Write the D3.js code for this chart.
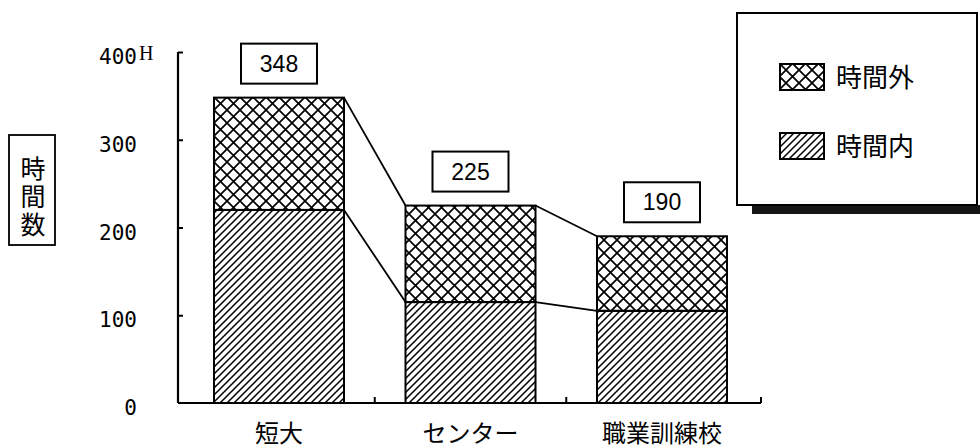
<!DOCTYPE html>
<html><head><meta charset="utf-8">
<script src="https://cdn.jsdelivr.net/npm/d3@7"></script>
<style>body{margin:0;background:#fff}</style>
</head><body><svg id="chart" width="980" height="448"></svg>
<script>
// Annual training hours by school type, split into in-hours and overtime
const categories = ["短大", "センター", "職業訓練校"];
const totals = [348, 225, 190];
const insideHours = [220, 115, 105];
const yTicks = [0, 100, 200, 300, 400];
const seriesNames = ["時間外", "時間内"];
const yTitle = "時間数";

const svg = d3.select("#chart");
const ink = "#000";
const cjk = "'Noto Sans CJK JP', sans-serif";

const y = d3.scaleLinear().domain([0, 400]).range([403, 52]);
const x = d3.scalePoint().domain(categories).range([279, 662]);
const barW = 130;

// hatch patterns
const defs = svg.append("defs");
const cross = defs.append("pattern").attr("id", "cross")
  .attr("patternUnits", "userSpaceOnUse").attr("width", 13).attr("height", 13)
  .attr("x", 214).attr("y", 97);
cross.append("path").attr("d", "M0,0L13,13M13,0L0,13")
  .attr("stroke", ink).attr("stroke-width", 1.7).attr("fill", "none");
const diag = defs.append("pattern").attr("id", "diag")
  .attr("patternUnits", "userSpaceOnUse").attr("width", 7).attr("height", 7);
diag.append("path").attr("d", "M-1,8L8,-1M-1,1L1,-1M6,8L8,6")
  .attr("stroke", ink).attr("stroke-width", 1.5).attr("fill", "none");

const rows = categories.map((c, i) => ({ cat: c, total: totals[i], inside: insideHours[i] }));

// stacked bars: lower segment in-hours, upper segment overtime
const bars = svg.append("g");
bars.selectAll("rect.inside").data(rows).join("rect")
  .attr("x", d => x(d.cat) - barW / 2).attr("width", barW)
  .attr("y", d => y(d.inside)).attr("height", d => y(0) - y(d.inside))
  .attr("fill", "url(#diag)").attr("stroke", ink).attr("stroke-width", 2);
bars.selectAll("rect.over").data(rows).join("rect")
  .attr("x", d => x(d.cat) - barW / 2).attr("width", barW)
  .attr("y", d => y(d.total)).attr("height", d => y(d.inside) - y(d.total))
  .attr("fill", "url(#cross)").attr("stroke", ink).attr("stroke-width", 2);

// connector lines between neighbouring bars
function connectors(key) {
  const segs = [];
  for (let i = 0; i < rows.length - 1; i++) {
    segs.push([[x(rows[i].cat) + barW / 2, y(rows[i][key])],
               [x(rows[i + 1].cat) - barW / 2, y(rows[i + 1][key])]]);
  }
  return segs;
}
const line = d3.line();
svg.append("g").selectAll("path")
  .data(connectors("total").concat(connectors("inside"))).join("path")
  .attr("d", line).attr("stroke", ink).attr("stroke-width", 1.8).attr("fill", "none");

// value boxes above bars
const vb = svg.append("g").selectAll("g").data(rows).join("g");
vb.append("rect")
  .attr("x", d => x(d.cat) - 38).attr("y", d => y(d.total) - 54)
  .attr("width", 76).attr("height", 40)
  .attr("fill", "#fff").attr("stroke", ink).attr("stroke-width", 2);
vb.append("text")
  .attr("x", d => x(d.cat)).attr("y", d => y(d.total) - 26)
  .attr("text-anchor", "middle")
  .style("font-family", "'Liberation Sans', Arial, sans-serif").style("font-size", "23px")
  .text(d => d.total);

// y axis
const yAxis = d3.axisRight(y).tickValues(yTicks.slice(1)).tickSize(5).tickFormat("");
const ya = svg.append("g").attr("transform", "translate(178,0)").call(yAxis);
ya.select(".domain").remove();
ya.selectAll("line").attr("stroke", ink).attr("stroke-width", 2);
svg.append("line").attr("x1", 178).attr("x2", 178).attr("y1", y(400)).attr("y2", y(0))
  .attr("stroke", ink).attr("stroke-width", 2.2);
svg.append("g").selectAll("text").data(yTicks).join("text")
  .attr("x", 137).attr("y", d => y(d) + 12).attr("text-anchor", "end")
  .style("font-family", "'DejaVu Sans Mono', monospace").style("font-size", "21px")
  .text(d => d);
svg.append("text").attr("x", 139).attr("y", 60)
  .style("font-family", "'Liberation Serif', serif").style("font-size", "20px").text("H");

// x axis baseline with separators
svg.append("line").attr("x1", 178).attr("x2", 761).attr("y1", y(0)).attr("y2", y(0))
  .attr("stroke", ink).attr("stroke-width", 2);
const seps = [];
for (let i = 0; i < rows.length - 1; i++) seps.push((x(categories[i]) + x(categories[i + 1])) / 2);
seps.push(761);
svg.append("g").selectAll("line").data(seps).join("line")
  .attr("x1", d => d).attr("x2", d => d).attr("y1", y(0)).attr("y2", y(0) - 6)
  .attr("stroke", ink).attr("stroke-width", 2);

// category labels
svg.append("g").selectAll("text").data(categories).join("text")
  .attr("x", d => x(d)).attr("y", 442).attr("text-anchor", "middle")
  .style("font-family", cjk).style("font-size", "24px").text(d => d);

// y-axis title box (vertical)
svg.append("rect").attr("x", 9).attr("y", 135).attr("width", 46).attr("height", 110)
  .attr("fill", "none").attr("stroke", ink).attr("stroke-width", 1.8);
svg.append("text").attr("x", 33).attr("y", 156)
  .style("writing-mode", "vertical-rl").style("letter-spacing", "3px")
  .style("font-family", cjk).style("font-size", "25px").text(yTitle);

// legend with drop shadow
svg.append("rect").attr("x", 752).attr("y", 205).attr("width", 228).attr("height", 9).attr("fill", "#161616");
svg.append("rect").attr("x", 737).attr("y", 13).attr("width", 240).attr("height", 192)
  .attr("fill", "#fff").attr("stroke", ink).attr("stroke-width", 2);
const lg = svg.append("g").selectAll("g").data(seriesNames).join("g")
  .attr("transform", (d, i) => `translate(780,${64 + i * 69})`);
lg.append("rect").attr("width", 44).attr("height", 26)
  .attr("fill", (d, i) => i === 0 ? "url(#cross)" : "url(#diag)")
  .attr("stroke", ink).attr("stroke-width", 2);
lg.append("text").attr("x", 56).attr("y", 23)
  .style("font-family", cjk).style("font-size", "26px").text(d => d);
</script>
</body></html>
